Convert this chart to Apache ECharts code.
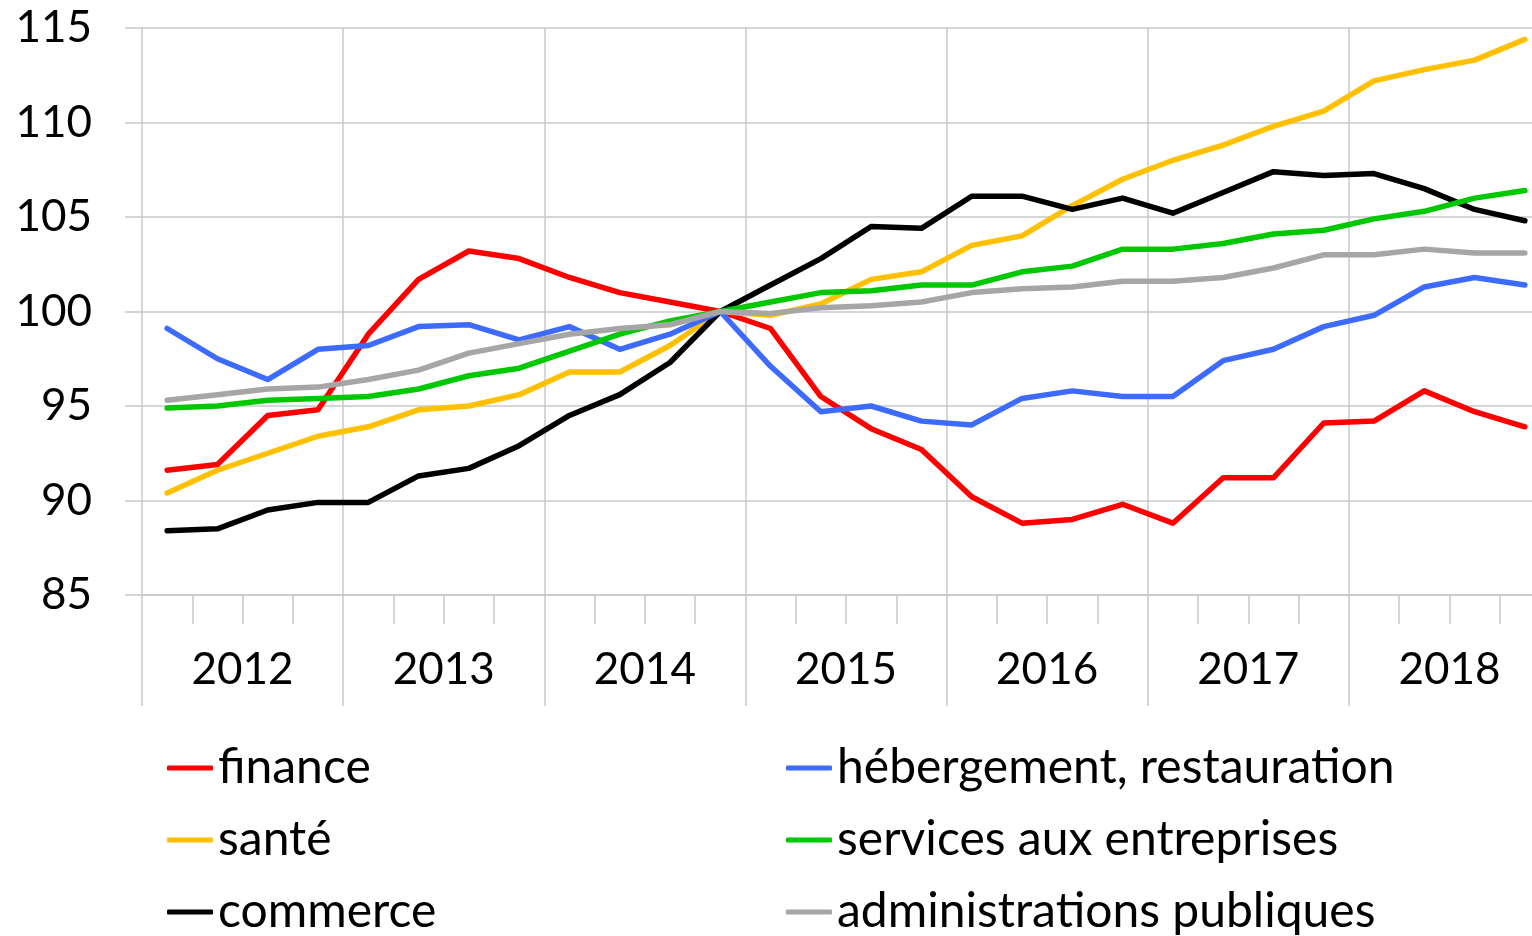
<!DOCTYPE html>
<html>
<head>
<meta charset="utf-8">
<script src="https://cdn.jsdelivr.net/npm/echarts@6/dist/echarts.min.js"></script>
<style>
html,body{margin:0;padding:0;background:#fff;}
#chart{width:1532px;height:936px;}
</style>
</head>
<body>
<div id="chart"></div>
<script>
const years = ['2012','2013','2014','2015','2016','2017','2018'];
const quarters = [];
years.forEach(y => { for (let q = 1; q <= 4; q++) quarters.push(y + 'T' + q); });

const finance   = [91.6, 91.9, 94.5, 94.8, 98.8, 101.7, 103.2, 102.8, 101.8, 101.0, 100.5, 100.0, 99.1, 95.5, 93.8, 92.7, 90.2, 88.8, 89.0, 89.8, 88.8, 91.2, 91.2, 94.1, 94.2, 95.8, 94.7, 93.9];
const hebergement = [99.1, 97.5, 96.4, 98.0, 98.2, 99.2, 99.3, 98.5, 99.2, 98.0, 98.8, 100.0, 97.1, 94.7, 95.0, 94.2, 94.0, 95.4, 95.8, 95.5, 95.5, 97.4, 98.0, 99.2, 99.8, 101.3, 101.8, 101.4];
const sante     = [90.4, 91.6, 92.5, 93.4, 93.9, 94.8, 95.0, 95.6, 96.8, 96.8, 98.2, 100.0, 99.8, 100.4, 101.7, 102.1, 103.5, 104.0, 105.6, 107.0, 108.0, 108.8, 109.8, 110.6, 112.2, 112.8, 113.3, 114.4];
const services  = [94.9, 95.0, 95.3, 95.4, 95.5, 95.9, 96.6, 97.0, 97.9, 98.8, 99.5, 100.0, 100.5, 101.0, 101.1, 101.4, 101.4, 102.1, 102.4, 103.3, 103.3, 103.6, 104.1, 104.3, 104.9, 105.3, 106.0, 106.4];
const commerce  = [88.4, 88.5, 89.5, 89.9, 89.9, 91.3, 91.7, 92.9, 94.5, 95.6, 97.3, 100.0, 101.4, 102.8, 104.5, 104.4, 106.1, 106.1, 105.4, 106.0, 105.2, 106.3, 107.4, 107.2, 107.3, 106.5, 105.4, 104.8];
const administrations = [95.3, 95.6, 95.9, 96.0, 96.4, 96.9, 97.8, 98.3, 98.8, 99.1, 99.3, 100.0, 99.9, 100.2, 100.3, 100.5, 101.0, 101.2, 101.3, 101.6, 101.6, 101.8, 102.3, 103.0, 103.0, 103.3, 103.1, 103.1];

const seriesNames = ['finance', 'santé', 'commerce', 'hébergement, restauration', 'services aux entreprises', 'administrations publiques'];
const seriesData = [finance, sante, commerce, hebergement, services, administrations];
const seriesColors = ['#FF0000', '#FFC000', '#000000', '#3D6BFF', '#00C800', '#A6A6A6'];

const FONT = 'Lato';
const GRID = '#C8C8C8';

const legendPos = [[167, 743], [167, 815], [167, 887], [786, 743], [786, 815], [786, 887]];

const chart = echarts.init(document.getElementById('chart'), null, {renderer: 'canvas'});
const option = {
  animation: false,
  textStyle: {fontFamily: FONT},
  grid: {left: 142, width: 1408, top: 28, height: 567, containLabel: false, outerBoundsMode: 'none'},
  legend: seriesNames.map((name, i) => ({
    data: [name], orient: 'horizontal', left: legendPos[i][0], top: legendPos[i][1],
    padding: 0, itemGap: 0, itemWidth: 46, itemHeight: 5, icon: 'roundRect',
    textStyle: {fontFamily: FONT, fontSize: 48, color: '#000', lineHeight: 50}
  })),
  xAxis: [
    {
      type: 'category', data: quarters, boundaryGap: true, position: 'bottom',
      axisLine: {show: true, lineStyle: {color: GRID, width: 1.5}},
      axisTick: {show: true, interval: 0, length: 29, lineStyle: {color: GRID, width: 1.5}},
      axisLabel: {show: false},
      splitLine: {show: false}
    },
    {
      type: 'category', data: years, boundaryGap: true, position: 'bottom',
      axisLine: {show: false},
      axisTick: {show: true, interval: 0, length: 111, lineStyle: {color: GRID, width: 1.5}},
      axisLabel: {show: true, interval: 0, fontFamily: FONT, fontSize: 44, color: '#000', margin: 53},
      splitLine: {show: true, interval: 0, lineStyle: {color: GRID, width: 1.5}}
    }
  ],
  yAxis: {
    type: 'value', min: 85, max: 115, interval: 5,
    axisLine: {show: false},
    axisTick: {show: true, length: 17, lineStyle: {color: GRID, width: 1.5}},
    axisLabel: {fontFamily: FONT, fontSize: 44, color: '#000', margin: 50},
    splitLine: {show: true, lineStyle: {color: GRID, width: 1.5}}
  },
  series: seriesNames.map((name, i) => ({
    name: name, type: 'line', xAxisIndex: 0, data: seriesData[i],
    symbol: 'none', smooth: false,
    lineStyle: {color: seriesColors[i], width: 5.5, cap: 'round', join: 'round'},
    itemStyle: {color: seriesColors[i]}
  }))
};
chart.setOption(option);
</script>
</body>
</html>
